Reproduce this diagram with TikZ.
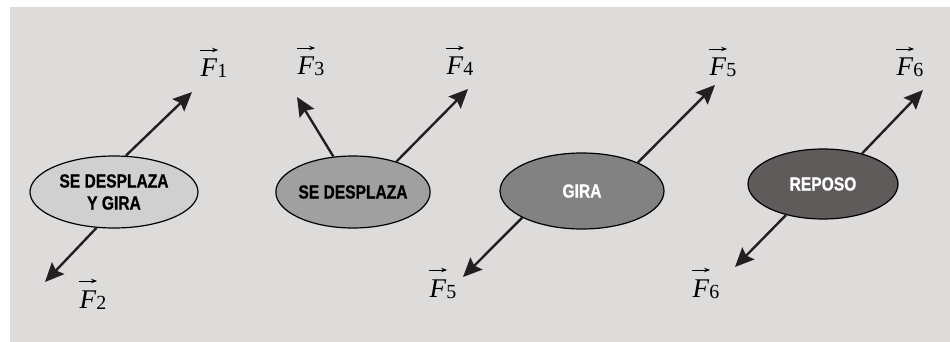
\documentclass[tikz,border=0pt]{standalone}
\usepackage{fontspec}
\setmainfont{Liberation Serif}
\newfontfamily\labfont{Liberation Sans Bold}[FakeStretch=0.82, FakeBold=0.8]
\usetikzlibrary{arrows.meta,shapes.geometric}
\definecolor{bg}{HTML}{DDDCDB}
\definecolor{ink}{HTML}{231F20}
\definecolor{gA}{HTML}{D0D0D0}
\definecolor{gB}{HTML}{A0A0A0}
\definecolor{gC}{HTML}{828282}
\definecolor{gD}{HTML}{5F5B5B}
\newcommand\vecarrow{\tikz[baseline=0pt]\draw[line width=0.9pt,-{Stealth[length=6pt,width=4.5pt]}] (0pt,0pt) -- (18pt,0pt);}
\newcommand\fv[1]{\raisebox{27pt}[0pt][0pt]{\makebox[0pt][l]{\hspace*{-1pt}\vecarrow}}\textit{F}\raisebox{-1pt}{\fontsize{20}{22}\selectfont #1}}
\tikzset{
  body/.style={ellipse, draw=black, line width=1.2pt, inner sep=0pt,
    font=\labfont\fontsize{19}{22}\selectfont, align=center},
  force/.style={draw=ink, line width=2.4pt, -{Stealth[length=19pt,width=17pt,inset=3pt]}},
  flabel/.style={anchor=base, inner sep=0pt, font=\fontsize{27}{29}\selectfont, text=black}
}
\begin{document}
\begin{tikzpicture}[x=1pt,y=-1pt]
\useasboundingbox (0,0) rectangle (950,342);
\fill[white] (0,0) rectangle (950,342);
\fill[bg] (10,7) rectangle (950,342);
% bodies
\node[body, fill=gA, minimum width=168pt, minimum height=72pt] (e1) at (114,192) {SE DESPLAZA\\Y GIRA};
\node[body, fill=gB, minimum width=154pt, minimum height=72pt] (e2) at (353,192) {SE DESPLAZA};
\node[body, fill=gC, minimum width=164pt, minimum height=76pt, text=white] (e3) at (582,191) {GIRA};
\node[body, fill=gD, minimum width=150pt, minimum height=70pt, text=white] (e4) at (823,184) {REPOSO};
% tips
\coordinate (t1) at (192,92);
\coordinate (t2) at (45,282);
\coordinate (t3) at (297,97);
\coordinate (t4) at (468,89);
\coordinate (t5) at (715,85);
\coordinate (t5b) at (463,277);
\coordinate (t6) at (923,90);
\coordinate (t6b) at (735,267);
% forces
\draw[force] (e1.72.5) -- (t1);
\draw[force] (e1.244.7) -- (t2);
\draw[force] (e2.119.7) -- (t3);
\draw[force] (e2.35.5) -- (t4);
\draw[force] (e3.27.4) -- (t5);
\draw[force] (e3.204.2) -- (t5b);
\draw[force] (e4.38.5) -- (t6);
\draw[force] (e4.220.7) -- (t6b);
% labels
\node[flabel] (l1) at (214,77) {\fv{1}};
\node[flabel] (l2) at (93,308) {\fv{2}};
\node[flabel] (l3) at (311,75) {\fv{3}};
\node[flabel] (l4) at (460,75) {\fv{4}};
\node[flabel] (l5) at (723,76) {\fv{5}};
\node[flabel] (l5b) at (443,297) {\fv{5}};
\node[flabel] (l6) at (910,76) {\fv{6}};
\node[flabel] (l6b) at (706,297) {\fv{6}};
\end{tikzpicture}
\end{document}
